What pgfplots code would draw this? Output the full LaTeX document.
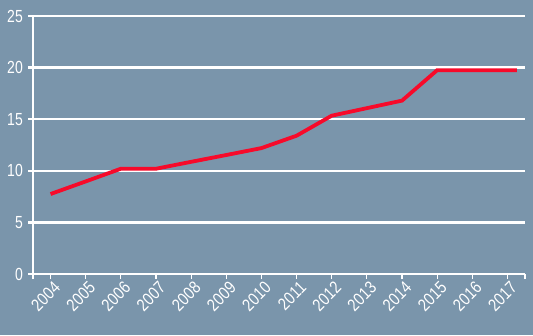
\documentclass[border=0pt]{standalone}
\usepackage{pgfplots}
\pgfplotsset{compat=1.18}
\usepackage{graphicx}
\usepackage{fontspec}
\setmainfont{Liberation Sans}
\definecolor{bg}{HTML}{7A95AB}
\definecolor{lred}{HTML}{F70A2A}
\begin{document}
\begin{tikzpicture}[x=1pt,y=1pt]
\fill[bg] (0,0) rectangle (533,335);
\begin{axis}[
  at={(33pt,61pt)}, anchor=south west,
  scale only axis, width=492pt, height=258pt,
  xmin=2003.5, xmax=2017.5, ymin=0, ymax=25,
  axis x line*=bottom, axis y line*=left,
  x axis line style={white, line width=2.5pt, -},
  y axis line style={white, line width=1.2pt, -},
  xtick={2004,...,2017}, minor x tick num=1,
  extra x ticks={2003.5,2017.5}, extra x tick labels={},
  ytick={0,5,...,25},
  tick align=outside, major tick length=5pt, minor tick length=5pt,
  xtick style={white, line width=1.2pt},
  ytick style={white, line width=2.5pt},
  ymajorgrids, grid style={white, line width=2.5pt},
  /pgf/number format/assume math mode=true,
  xticklabel={\scalebox{1}[1.2]{\pgfmathprintnumber[1000 sep={}]{\tick}}},
  yticklabel={\scalebox{1}[1.25]{\pgfmathprintnumber{\tick}}},
  xticklabel style={white, font=\fontsize{14.5}{15}\selectfont, rotate=45, anchor=north east, inner sep=1pt, xshift=1.5pt, yshift=-1.5pt},
  yticklabel style={white, font=\fontsize{14}{15}\selectfont, inner sep=2pt, xshift=-3pt},
  clip=false,
]
\addplot[lred, line width=3.8pt, line join=miter] coordinates {
(2004,7.75) (2005,8.97) (2006,10.2) (2007,10.2) (2008,10.87) (2009,11.53)
(2010,12.2) (2011,13.4) (2012,15.34) (2013,16.07) (2014,16.8)
(2015,19.75) (2016,19.75) (2017,19.75) (2017.27,19.75)
};
\end{axis}
\end{tikzpicture}
\end{document}
